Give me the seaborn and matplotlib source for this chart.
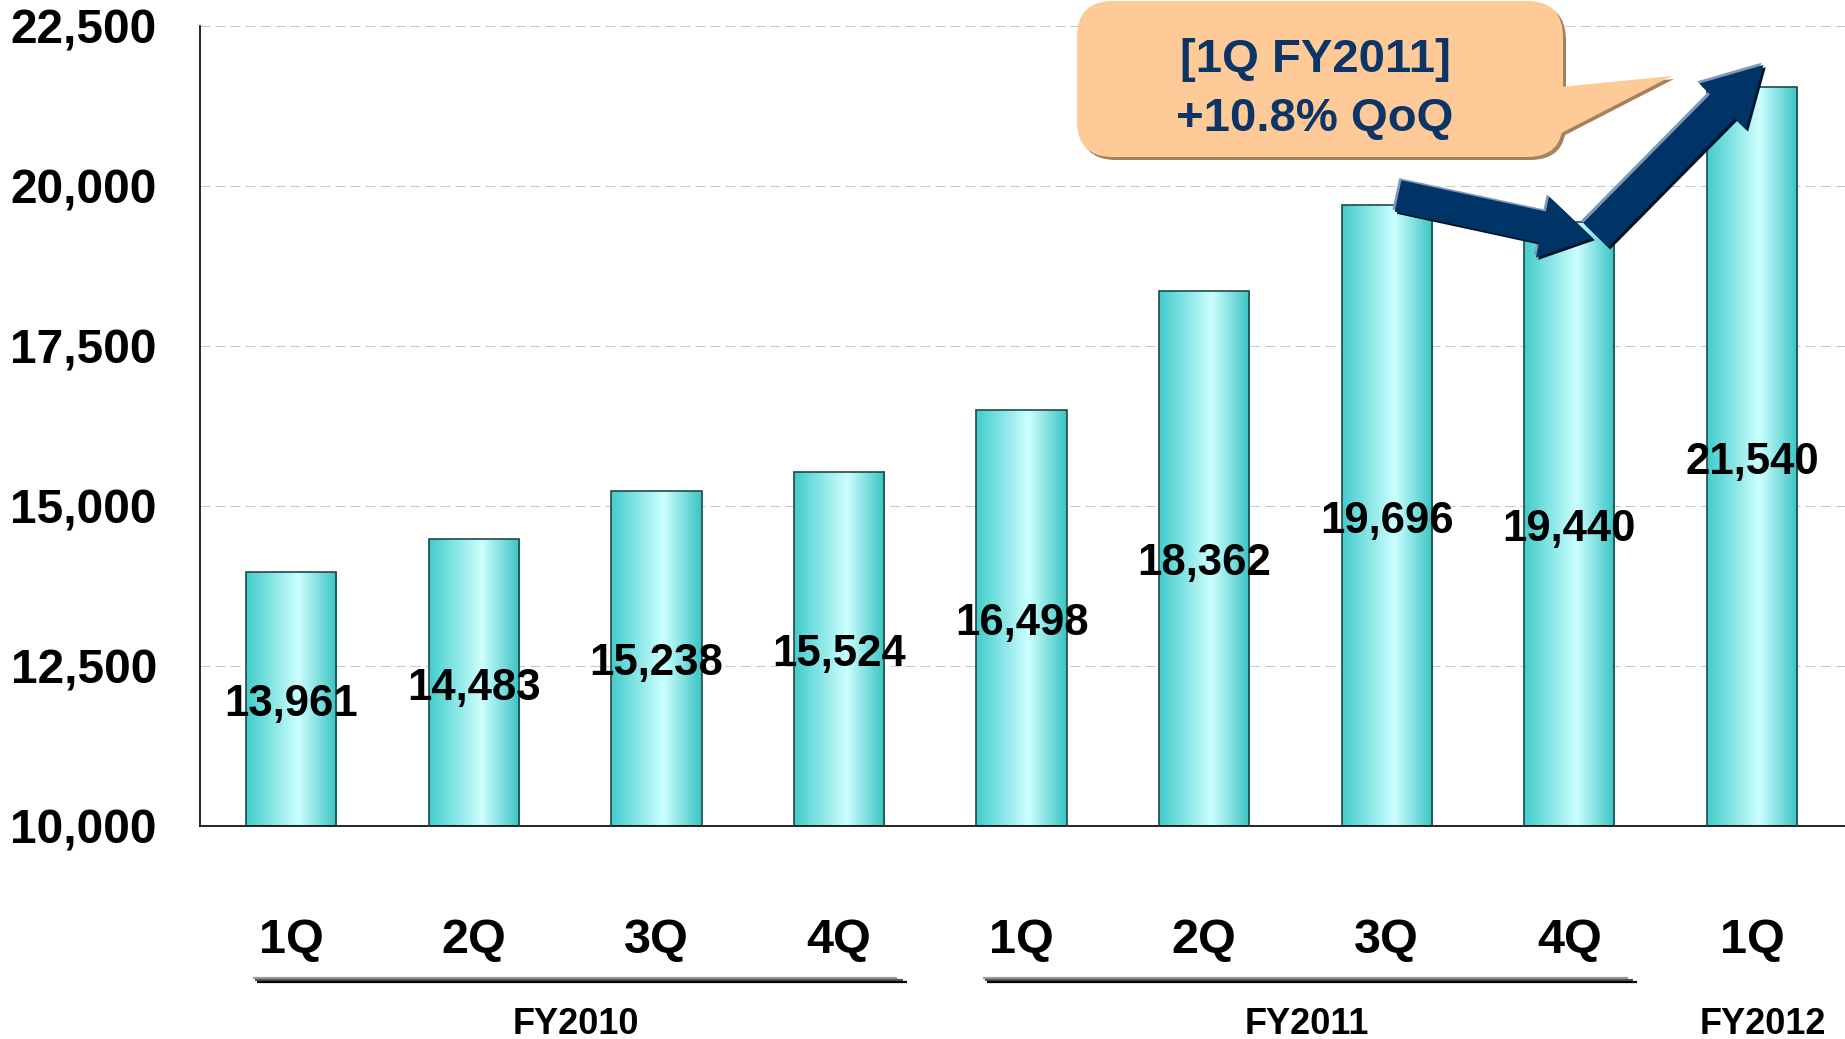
import numpy as np
import pandas as pd
import matplotlib
matplotlib.use("Agg")
import matplotlib.pyplot as plt
import seaborn as sns
from matplotlib import patches, transforms, patheffects
from matplotlib.colors import LinearSegmentedColormap
from matplotlib.ticker import FuncFormatter

# ---- data -------------------------------------------------------------
quarters = ["1Q", "2Q", "3Q", "4Q", "1Q", "2Q", "3Q", "4Q", "1Q"]
fiscal_years = ["FY2010"] * 4 + ["FY2011"] * 4 + ["FY2012"]
sales = [13961, 14483, 15238, 15524, 16498, 18362, 19696, 19440, 21540]
y_ticks = [10000, 12500, 15000, 17500, 20000, 22500]
callout_lines = ["[1Q FY2011]", "+10.8% QoQ"]

df = pd.DataFrame({
    "period": [f"{fy} {q}" for fy, q in zip(fiscal_years, quarters)],
    "sales": sales,
})

# ---- style ------------------------------------------------------------
sns.set_theme(style="white")
plt.rcParams["font.family"] = ["Liberation Sans", "DejaVu Sans"]
plt.rcParams["font.weight"] = "bold"

W, H = 1845, 1039
fig = plt.figure(figsize=(W / 100, H / 100), dpi=100)
fig.patch.set_facecolor("white")
# pixel coordinates measured from the top-left corner of the canvas
pix = transforms.Affine2D().scale(1 / W, -1 / H).translate(0, 1) + fig.transFigure

ax = fig.add_axes([200 / W, (H - 826) / H, 1 - 200 / W, (826 - 26) / H])
ymin, ymax = y_ticks[0], y_ticks[-1]

sns.barplot(data=df, x="period", y="sales", color="#7fe0e0", width=0.495,
            edgecolor="#1d4a4a", linewidth=1.2, ax=ax, zorder=3)
ax.set_xlim(-0.5, 8.51)
ax.set_ylim(ymin, ymax)

# cylinder-like horizontal shading inside every bar
shade = LinearSegmentedColormap.from_list(
    "tealshade", [(0.0, "#43cbcb"), (0.58, "#cdffff"), (1.0, "#3ac3c3")])
grad = np.linspace(0, 1, 256).reshape(1, -1)
for bar in ax.patches:
    x0, w = bar.get_x(), bar.get_width()
    top = bar.get_y() + bar.get_height()
    im = ax.imshow(grad, cmap=shade, extent=[x0, x0 + w, ymin, top],
                   aspect="auto", zorder=2.5, interpolation="bilinear")
    im.set_clip_path(bar)
    bar.set_facecolor("none")

ax.set_xlim(-0.5, 8.51)
ax.set_ylim(ymin, ymax)

# ---- axes ---------------------------------------------------------------
ax.set_yticks(y_ticks)
ax.yaxis.set_major_formatter(FuncFormatter(lambda v, _: f"{int(v):,}"))
ax.tick_params(axis="y", direction="in", length=12, width=1.2, color="black",
               pad=31, labelsize=34.5, labelcolor="black")
ax.set_xticks(range(len(quarters)))
ax.set_xticklabels(quarters)
ax.tick_params(axis="x", length=0, pad=66, labelsize=35, labelcolor="black")
for lab in ax.get_xticklabels() + ax.get_yticklabels():
    lab.set_fontweight("bold")
ax.set_xlabel("")
ax.set_ylabel("")

ax.yaxis.grid(True, color="#c8c8c8", linestyle=(0, (9.6, 4.8)), linewidth=0.75)
ax.xaxis.grid(False)
ax.set_axisbelow(True)
for side in ("top", "right"):
    ax.spines[side].set_visible(False)
for side in ("left", "bottom"):
    ax.spines[side].set_color("black")
    ax.spines[side].set_linewidth(1.2)

# value labels in the middle of the visible part of each bar
for i, v in enumerate(sales):
    ax.annotate(f"{v:,}", xy=(i, (v + ymin) / 2), xytext=(0, -4),
                textcoords="offset points", ha="center", va="center",
                fontsize=31.5, fontweight="bold", color="black", zorder=5)

# ---- fiscal-year grouping under the quarter labels ------------------------
xpix = transforms.blended_transform_factory(ax.transData, pix)
groups = {}
for i, fy in enumerate(fiscal_years):
    groups.setdefault(fy, []).append(i)
for fy, idx in groups.items():
    first, last = idx[0], idx[-1]
    if last > first:
        for dy, dx0, dx1, col in [(978, -0.01, -0.03, "#9a9a9a"),
                                  (980, 0.0, 0.0, "#555555"),
                                  (982, 0.01, 0.02, "#000000")]:
            ax.plot([first - 0.2 + dx0, last + 0.35 + dx1], [dy, dy],
                    transform=xpix, color=col, linewidth=1.6,
                    solid_capstyle="butt", clip_on=False)
    ax.text((first + last) / 2 + 0.06, 1025, fy, transform=xpix, ha="center",
            va="center", fontsize=26, fontweight="bold", color="black",
            clip_on=False)

# ---- callout bubble -------------------------------------------------------
box_kw = dict(boxstyle="round,pad=0,rounding_size=36", transform=pix,
              clip_on=False, linewidth=0)
tail_pts = np.array([(1540, 89), (1672, 76), (1540, 144)])
fig.add_artist(patches.FancyBboxPatch((1080, 4), 486, 156, fc="#a5825e",
                                      zorder=6, **box_kw))
fig.add_artist(patches.Polygon(tail_pts + [2, 3], closed=True, fc="#a5825e",
                               transform=pix, zorder=6, linewidth=0))
fig.add_artist(patches.FancyBboxPatch((1077, 1), 486, 156, fc="#fdca98",
                                      zorder=7, **box_kw))
fig.add_artist(patches.Polygon(tail_pts, closed=True, fc="#fdca98",
                               transform=pix, zorder=7, linewidth=0))
fig.text(1315, 60, callout_lines[0], transform=pix, ha="center", va="center",
         fontsize=34, fontweight="bold", color="#0d3466", zorder=8)
fig.text(1315, 119, callout_lines[1], transform=pix, ha="center", va="center",
         fontsize=34, fontweight="bold", color="#0d3466", zorder=8)

# ---- trend arrows ----------------------------------------------------------
bevel = [patheffects.SimplePatchShadow(offset=(-1.6, 1.6), shadow_rgbFace="#7d98b8", alpha=1.0),
         patheffects.SimplePatchShadow(offset=(1.6, -1.6), shadow_rgbFace="#00152c", alpha=1.0),
         patheffects.Normal()]
arrows = [((6.062, 19844), (7.128, 19188), 23, 45, 37),
          ((7.144, 19234), (8.064, 21891), 25, 47, 42)]
for (a, b, tail_w, head_w, head_l) in arrows:
    arr = patches.FancyArrowPatch(
        a, b, arrowstyle=patches.ArrowStyle.Simple(head_length=head_l,
                                                   head_width=head_w,
                                                   tail_width=tail_w),
        mutation_scale=1, shrinkA=0, shrinkB=0, color="#003366",
        linewidth=0, zorder=9, clip_on=False)
    arr.set_path_effects(bevel)
    ax.add_patch(arr)

fig.savefig("out.png", dpi=100, facecolor="white")
